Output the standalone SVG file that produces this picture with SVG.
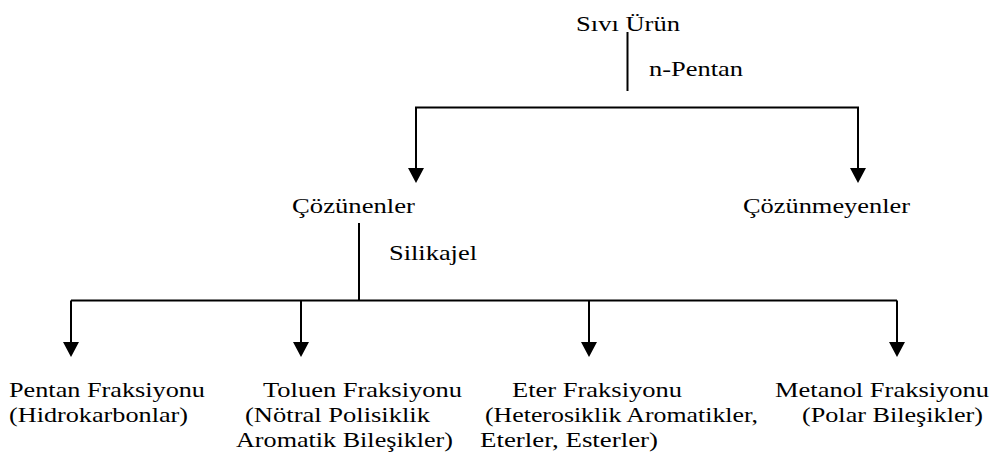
<svg xmlns="http://www.w3.org/2000/svg" width="996" height="467" viewBox="0 0 996 467">
  <style>
    .ln { stroke: #000; stroke-width: 2; fill: none; }
    text { font-family: "Liberation Serif", "DejaVu Serif", "Times New Roman", serif; font-size: 22px; fill: #000; }
  </style>

  <!-- connectors -->
  <g id="connectors">
    <path class="ln" d="M627.5 32 V91"/>
    <path class="ln" d="M416 176 V107.5 H858 V176"/>
    <path class="ln" d="M359 223 V300.5"/>
    <path class="ln" d="M71 300.5 H897"/>
    <path class="ln" d="M71 300.5 V350"/>
    <path class="ln" d="M301 300.5 V350"/>
    <path class="ln" d="M589 300.5 V350"/>
    <path class="ln" d="M897 300.5 V350"/>
    <!-- arrowheads -->
    <path d="M408 168 H424 L416 183 Z"/>
    <path d="M850 168 H866 L858 183 Z"/>
    <path d="M63 342 H79 L71 357 Z"/>
    <path d="M293 342 H309 L301 357 Z"/>
    <path d="M581 342 H597 L589 357 Z"/>
    <path d="M889 342 H905 L897 357 Z"/>
    <!-- edge labels -->
    <text x="649" y="76" textLength="94" lengthAdjust="spacingAndGlyphs">n-Pentan</text>
    <text x="389" y="260" textLength="88" lengthAdjust="spacingAndGlyphs">Silikajel</text>
  </g>

  <g id="sivi-urun">
    <text x="576" y="31" textLength="104" lengthAdjust="spacingAndGlyphs">Sıvı Ürün</text>
  </g>
  <g id="cozunenler">
    <text x="292" y="213" textLength="123" lengthAdjust="spacingAndGlyphs">Çözünenler</text>
  </g>
  <g id="cozunmeyenler">
    <text x="743" y="213" textLength="167" lengthAdjust="spacingAndGlyphs">Çözünmeyenler</text>
  </g>
  <g id="pentan-fraksiyonu">
    <text x="9" y="397" textLength="196" lengthAdjust="spacingAndGlyphs">Pentan Fraksiyonu</text>
    <text x="9" y="422" textLength="179" lengthAdjust="spacingAndGlyphs">(Hidrokarbonlar)</text>
  </g>
  <g id="toluen-fraksiyonu">
    <text x="263" y="397" textLength="199" lengthAdjust="spacingAndGlyphs">Toluen Fraksiyonu</text>
    <text x="245" y="422" textLength="185" lengthAdjust="spacingAndGlyphs">(Nötral Polisiklik</text>
    <text x="236" y="447" textLength="217" lengthAdjust="spacingAndGlyphs">Aromatik Bileşikler)</text>
  </g>
  <g id="eter-fraksiyonu">
    <text x="512" y="397" textLength="170" lengthAdjust="spacingAndGlyphs">Eter Fraksiyonu</text>
    <text x="485" y="422" textLength="273" lengthAdjust="spacingAndGlyphs">(Heterosiklik Aromatikler,</text>
    <text x="480" y="447" textLength="178" lengthAdjust="spacingAndGlyphs">Eterler, Esterler)</text>
  </g>
  <g id="metanol-fraksiyonu">
    <text x="775" y="397" textLength="214" lengthAdjust="spacingAndGlyphs">Metanol Fraksiyonu</text>
    <text x="802" y="422" textLength="181" lengthAdjust="spacingAndGlyphs">(Polar Bileşikler)</text>
  </g>
</svg>
